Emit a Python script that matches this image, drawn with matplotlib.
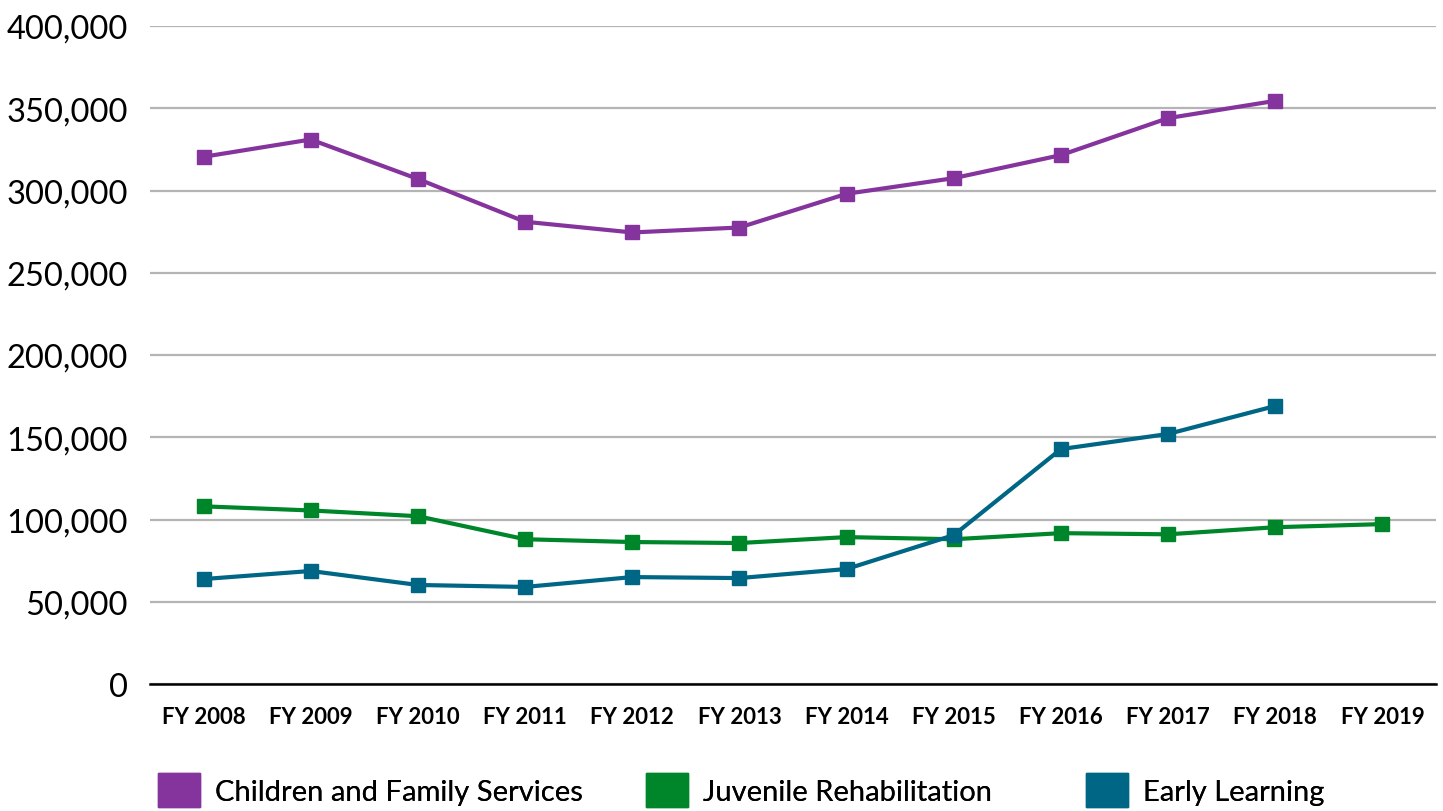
import numpy as np
import matplotlib
matplotlib.use("Agg")
from matplotlib import pyplot as plt
from matplotlib.patches import Patch
from matplotlib.ticker import FuncFormatter

years = ["FY 2008", "FY 2009", "FY 2010", "FY 2011", "FY 2012", "FY 2013",
         "FY 2014", "FY 2015", "FY 2016", "FY 2017", "FY 2018", "FY 2019"]

# None = no value that year
children_family = [320500, 331000, 307000, 281000, 274500, 277500,
                   298000, 307500, 321500, 344000, 354500, None]
juvenile_rehab = [108000, 105500, 102000, 88000, 86300, 85700,
                  89300, 88000, 91700, 91000, 95300, 97200]
early_learning = [63800, 68700, 60200, 59000, 65000, 64400,
                  69900, 90500, 142800, 152000, 169000, None]

series_names = ["Children and Family Services", "Juvenile Rehabilitation", "Early Learning"]
colors = ["#85349E", "#00862A", "#006685"]

plt.rcParams['font.family'] = ["Lato", "DejaVu Sans"]

fig = plt.figure(figsize=(14.43, 8.12), dpi=100)
ax = fig.add_axes([150/1443, 1-685/812, (1436-150)/1443, (685-27)/812])

x = np.arange(len(years))
for vals, c in zip([children_family, juvenile_rehab, early_learning], colors):
    y = np.array([np.nan if v is None else v for v in vals], dtype=float)
    ax.plot(x, y, color=c, lw=3, marker='s', ms=9.5, mec=c, mfc=c)

ax.set_xlim(-0.5, len(years) - 0.5)
ax.set_ylim(0, 400000)
ax.set_yticks(np.arange(0, 400001, 50000))
ax.yaxis.set_major_formatter(FuncFormatter(lambda v, p: f"{int(v):,}"))
ax.set_xticks(x)
ax.set_xticklabels(years, fontsize=16, fontweight='bold')
ax.tick_params(axis='y', labelsize=23.5, length=0, pad=16)
ax.tick_params(axis='x', length=0, pad=16)
ax.grid(axis='y', color='#B4B4B4', lw=1.6)
ax.set_axisbelow(True)
for s in ['top', 'right', 'left']:
    ax.spines[s].set_visible(False)
ax.spines['bottom'].set_linewidth(1.8)
ax.spines['bottom'].set_color('black')
ax.spines['bottom'].set_zorder(5)

# one legend entry per box, placed like the original
legend_x = [158, 646, 1086]
for name, c, lx in zip(series_names, colors, legend_x):
    leg = fig.legend([Patch(facecolor=c, edgecolor=c)], [name], loc='center left',
                     bbox_to_anchor=(lx/1443, 21/812), frameon=False, fontsize=21,
                     handlelength=1.45, handleheight=1.45, handletextpad=0.5,
                     borderaxespad=0, borderpad=0)
    fig.add_artist(leg)

fig.savefig("out.png", dpi=100)
